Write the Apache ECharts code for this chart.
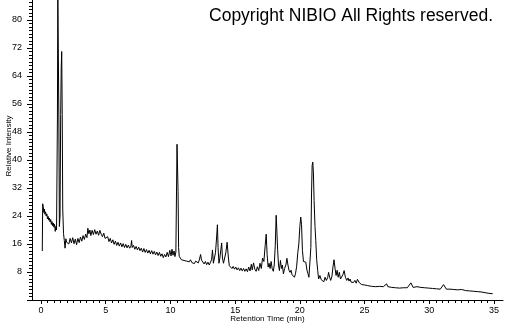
<!DOCTYPE html>
<html>
<head>
<meta charset="utf-8">
<script src="https://cdn.jsdelivr.net/npm/echarts@6/dist/echarts.min.js"></script>
<style>html,body{margin:0;padding:0;background:#fff}#c{width:505px;height:325px}</style>
</head>
<body>
<div id="c"></div>
<script>
const titleText = 'Copyright NIBIO All Rights reserved.';
const xName = 'Retention Time (min)';
const yName = 'Relative Intensity';
const xTicks = [0, 5, 10, 15, 20, 25, 30, 35];
const yTicks = [8, 16, 24, 32, 40, 48, 56, 64, 72, 80];

const times = [
0.10,0.13,0.18,0.22,0.26,0.30,0.35,0.40,0.45,0.50,0.55,0.60,0.65,0.70,0.75,0.80,0.85,0.90,0.95,1.00,1.05,1.10,1.15,1.20,
1.22,1.27,1.30,1.34,1.38,1.42,1.47,1.52,1.56,1.60,1.64,1.68,1.74,1.80,1.86,1.92,1.98,
2.05,2.15,2.25,2.35,2.45,2.55,2.65,2.75,2.85,2.95,3.05,3.15,3.25,3.35,3.45,3.55,3.62,3.70,3.78,3.85,3.95,
4.05,4.15,4.25,4.35,4.45,4.55,4.65,4.75,4.85,4.95,5.05,5.15,5.25,5.35,5.45,5.55,5.65,5.75,5.85,5.95,
6.05,6.15,6.25,6.35,6.45,6.55,6.65,6.75,6.85,6.95,7.00,7.05,7.15,7.25,7.35,7.45,7.55,7.65,7.75,7.85,7.95,
8.05,8.15,8.25,8.35,8.45,8.55,8.65,8.75,8.85,8.95,9.05,9.15,9.25,9.35,9.45,9.55,9.65,9.75,9.85,9.95,
10.05,10.12,10.20,10.28,10.35,10.42,10.47,10.51,10.55,10.59,10.63,10.68,10.75,10.85,10.95,
11.05,11.15,11.25,11.35,11.45,11.55,11.65,11.75,11.85,11.95,12.05,12.15,12.25,12.33,12.40,12.50,12.60,12.70,12.80,12.90,
13.00,13.08,13.18,13.25,13.32,13.40,13.48,13.57,13.63,13.68,13.75,13.82,13.90,13.96,14.02,14.10,14.18,14.28,14.38,14.42,14.48,14.55,14.65,14.75,14.85,14.95,
15.05,15.15,15.25,15.35,15.45,15.55,15.65,15.75,15.85,15.95,16.05,16.15,16.25,16.32,16.42,16.52,16.62,16.72,16.82,16.92,
17.02,17.12,17.22,17.32,17.40,17.47,17.55,17.62,17.70,17.78,17.86,17.95,18.02,18.10,18.17,18.22,18.28,18.35,18.42,18.50,18.58,18.65,18.73,18.82,18.92,
19.00,19.08,19.16,19.24,19.32,19.40,19.50,19.58,19.66,19.75,19.84,19.92,20.00,20.07,20.13,20.20,20.28,20.38,20.46,20.55,20.62,20.70,20.78,20.85,20.90,20.95,
21.00,21.05,21.10,21.17,21.23,21.30,21.38,21.45,21.55,21.65,21.75,21.85,21.95,22.05,22.15,22.22,22.30,22.38,22.48,22.56,22.64,22.72,22.80,22.88,22.96,
23.05,23.14,23.24,23.32,23.42,23.52,23.62,23.72,23.80,23.88,23.96,24.05,24.14,24.25,24.35,24.45,24.52,24.60,24.70,24.78,24.90,
25.00,25.10,25.25,25.40,25.55,25.70,25.85,26.00,26.15,26.30,26.45,26.60,26.70,26.80,26.95,27.10,27.25,27.40,27.55,27.70,27.85,
28.00,28.15,28.30,28.45,28.58,28.65,28.75,28.90,29.05,29.20,29.35,29.50,29.65,29.80,29.95,30.10,30.25,30.40,30.55,30.70,30.85,
31.00,31.10,31.20,31.32,31.45,31.60,31.75,31.90,32.05,32.20,32.35,32.50,32.65,32.80,32.95,33.10,33.25,33.40,33.55,33.70,33.85,
34.00,34.15,34.30,34.45,34.60,34.75,34.90
];

const intensity = [
14.0,27.5,26.5,25.0,26.0,24.5,25.2,24.0,24.6,23.2,23.9,22.8,23.4,22.3,23.0,21.6,22.4,21.2,22.0,20.8,21.6,19.6,21.0,20.0,
20.5,52,88,88,52,21,24,53,66,71,53,26,19,17,14.8,17.5,16.5,
17.0,16.0,17.6,16.3,17.8,16.1,17.4,15.8,17.6,16.4,18.0,16.8,18.4,17.3,18.8,17.8,20.5,18.9,20.0,18.4,19.9,
18.7,20.1,18.8,19.7,18.5,19.9,18.8,18.1,19.1,17.6,17.2,18.1,16.7,17.6,16.3,17.2,15.9,16.8,15.6,16.5,
15.4,16.3,15.2,16.1,15.0,15.9,14.9,15.7,14.8,15.4,17.0,15.0,15.6,14.5,15.3,14.3,15.1,14.1,14.8,13.7,14.7,
13.6,14.4,13.4,14.2,13.2,14.1,13.1,13.9,12.9,13.7,12.7,13.6,12.5,13.2,12.1,13.0,12.3,13.6,12.4,14.2,
12.6,14.5,12.8,14.0,12.4,13.7,14.0,44.5,44.0,31,15,12.5,12.0,11.5,12.0,
11.3,11.8,11.1,11.6,10.9,11.5,10.7,11.2,10.4,11.1,11.3,10.6,11.7,13.0,11.4,11.0,10.3,11.0,10.1,10.8,
10.0,9.8,11.5,14.3,10.5,11.0,13.5,18,21.5,15.0,10.5,12.0,14.5,16.3,12.0,10.5,10.8,13.5,16.5,17.0,12.0,9.8,9.6,9.0,9.6,8.8,
9.4,8.6,9.2,8.4,9.1,8.3,9.0,8.2,8.9,8.1,9.4,8.3,10.2,8.6,10.6,8.8,8.2,9.5,8.4,10.5,
9.0,12.0,11.0,15.5,18.8,13.0,9.4,10.5,9.0,11.0,9.0,8.2,10.0,15.5,24.2,20.0,14.5,10.0,8.4,11.3,9.0,10.0,7.5,9.0,10.0,
11.9,10.0,8.5,7.9,8.5,7.2,7.6,6.5,7.5,9.5,13.5,16.0,21.0,23.7,21.5,14.1,11.0,11.3,10.8,8.5,7.6,6.5,6.1,15,30,38.5,
39.4,36,28.4,21,17.0,11.5,8.4,6.0,7.0,5.8,6.2,5.2,6.5,5.6,6.4,7.9,6.5,5.6,6.8,9.5,11.5,9.0,7.0,8.5,6.5,
7.9,6.0,5.7,7.2,8.4,6.5,5.6,6.3,5.4,6.0,5.1,5.6,5.0,5.6,4.8,5.9,5.9,4.9,5.2,4.4,4.8,
4.3,4.6,4.1,4.5,3.9,4.2,3.8,4.2,3.9,4.3,3.8,4.1,4.6,3.8,4.1,3.6,4.0,3.5,3.9,3.4,3.8,
3.5,3.9,3.5,3.8,4.9,4.4,3.6,3.5,3.8,3.3,3.6,3.2,3.5,3.1,3.4,3.0,3.3,2.9,3.2,2.8,3.1,
3.4,4.4,4.2,3.1,2.9,3.1,2.8,3.0,2.7,2.9,2.6,3.0,2.6,2.7,2.4,2.6,2.4,2.5,2.3,2.4,2.2,
2.3,2.1,2.1,2.0,1.9,1.9,1.8
];

const seriesData = times.map((t, i) => [t, intensity[i]]);
const FONT = "'Liberation Sans', Arial, sans-serif";

const chart = echarts.init(document.getElementById('c'), null, {renderer: 'canvas'});
chart.setOption({
  animation: false,
  backgroundColor: '#fff',
  title: {
    text: titleText, right: 7, top: 2,
    textStyle: {fontFamily: 'Liberation Sans', fontSize: 17.5, fontWeight: 'normal', color: '#000'}
  },
  grid: [
    {left: 41, right: 11, top: -8, bottom: 25, containLabel: false, outerBoundsMode: 'none'},
    {left: 32, right: 2, top: -8, bottom: 25, containLabel: false, outerBoundsMode: 'none'}
  ],
  xAxis: [
    {
      type: 'value', gridIndex: 0, min: xTicks[0], max: xTicks[xTicks.length - 1], interval: 5,
      name: xName, nameLocation: 'middle', nameGap: 15, nameMoveOverlap: false,
      nameTextStyle: {fontFamily: FONT, fontSize: 8, color: '#000'},
      axisLine: {show: false},
      axisTick: {show: true, length: 4, lineStyle: {color: '#000'}},
      minorTick: {show: true, splitNumber: 10, length: 3, lineStyle: {color: '#000'}},
      axisLabel: {fontFamily: FONT, fontSize: 9, color: '#000', margin: 6,
        formatter: v => xTicks.indexOf(v) >= 0 ? String(v) : ''},
      splitLine: {show: false}
    },
    {
      type: 'value', gridIndex: 1, min: -0.7, max: 35.7,
      axisLine: {show: true, onZero: false, lineStyle: {color: '#000', width: 1}},
      axisTick: {show: false}, axisLabel: {show: false}, splitLine: {show: false}
    }
  ],
  yAxis: [
    {
      type: 'value', gridIndex: 0, min: 0, max: 88, interval: 8, offset: 9,
      name: yName, nameLocation: 'middle', nameGap: 19, nameMoveOverlap: false,
      nameTextStyle: {fontFamily: FONT, fontSize: 8, color: '#000'},
      axisLine: {show: true, onZero: false, lineStyle: {color: '#000', width: 1}},
      axisTick: {show: true, length: 5, lineStyle: {color: '#000'}},
      minorTick: {show: true, splitNumber: 8, length: 3, lineStyle: {color: '#000'}},
      axisLabel: {fontFamily: FONT, fontSize: 9, color: '#000', margin: 10,
        formatter: v => yTicks.indexOf(v) >= 0 ? String(v) : ''},
      splitLine: {show: false}
    },
    {
      type: 'value', gridIndex: 1, min: 0, max: 88, show: false
    }
  ],
  series: [{
    type: 'line', xAxisIndex: 0, yAxisIndex: 0,
    data: seriesData, showSymbol: false, symbol: 'none',
    lineStyle: {color: '#000', width: 1}, clip: true
  }]
});
</script>
</body>
</html>
